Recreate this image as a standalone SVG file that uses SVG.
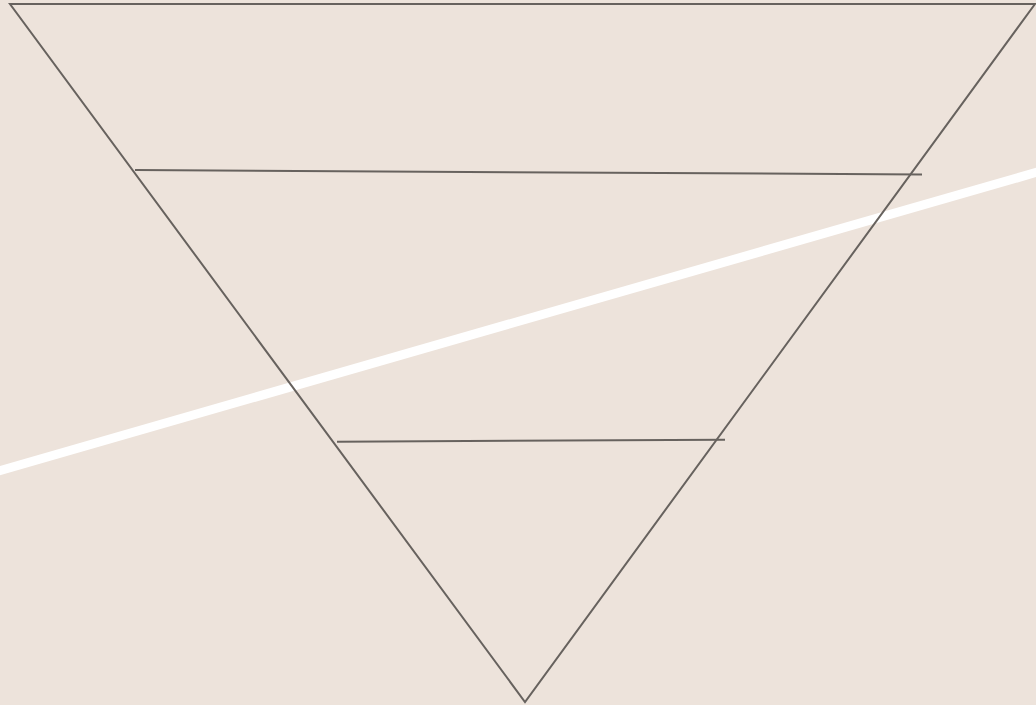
<svg xmlns="http://www.w3.org/2000/svg" width="1036" height="705" viewBox="0 0 1036 705">
<style>
.ln{stroke:#67625e;stroke-width:2;fill:none}
</style>
<rect width="1036" height="705" fill="#ede3db"/>
<g id="diagonal">
<line x1="-5" y1="472" x2="1041" y2="171" stroke="#ffffff" stroke-width="9"/>
</g>
<g id="triangle">
<polygon class="ln" points="10,4 1035,4 525,702"/>
</g>
<g id="connectors">
<line class="ln" x1="135" y1="170" x2="922" y2="174.5"/>
<line class="ln" x1="337" y1="441.7" x2="725" y2="439.7"/>
</g>
</svg>
